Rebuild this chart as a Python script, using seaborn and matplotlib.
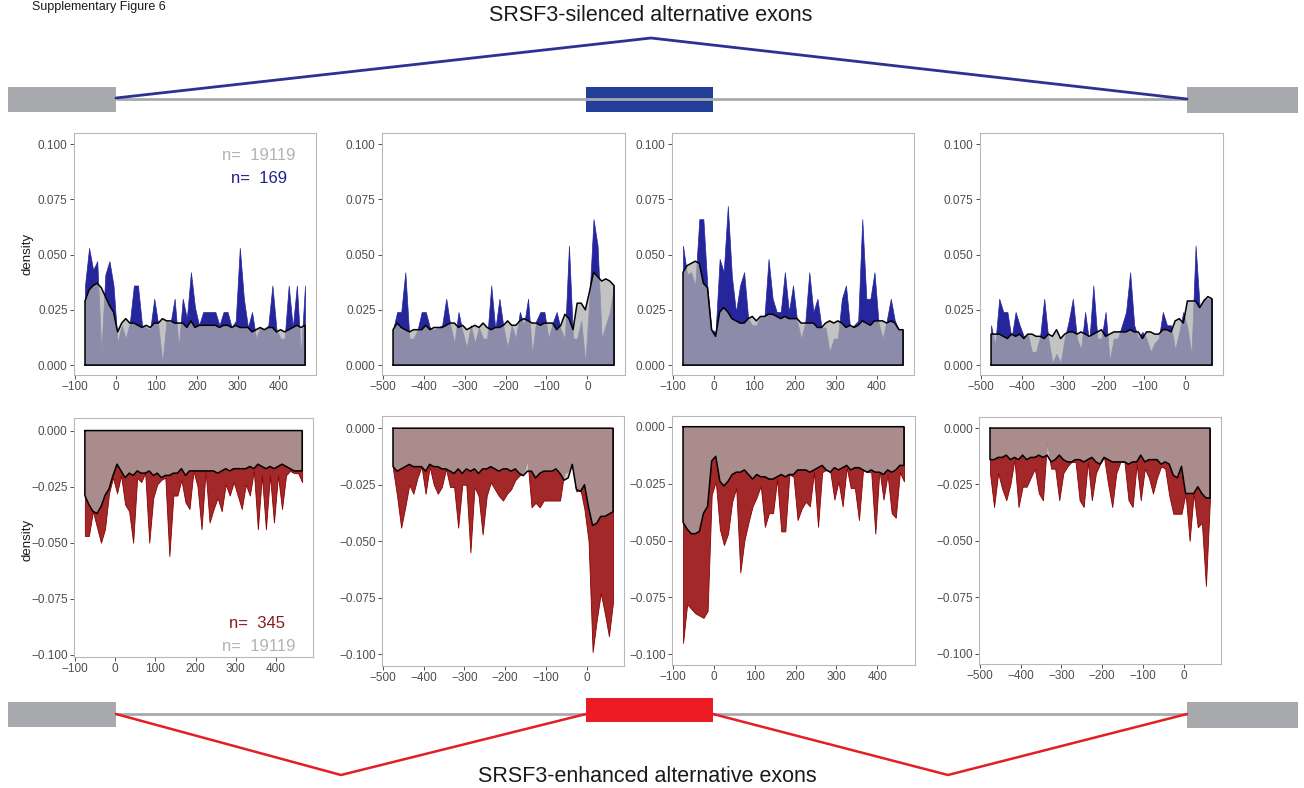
import matplotlib
matplotlib.use("Agg")
import matplotlib.pyplot as plt
import matplotlib.ticker as mticker
from matplotlib.patches import Rectangle
import pandas as pd
import seaborn as sns

sns.set_theme(style="ticks")
plt.rcParams["font.family"] = ["Liberation Sans", "DejaVu Sans"]

W, H = 1304, 788

# ── Data: binned motif density around splice sites ────────────────────────────
POS_DOWN = list(range(-75, 466, 10))    # positions for exon-end panels
POS_UP = list(range(-475, 66, 10))      # positions for exon-start panels

N_BG = 19119
N_SIL = 169
N_ENH = 345

# silenced exons (top row): background vs. hit density
BG_SIL_1 = [.029, .034, .036, .037, .035, .031, .027, .024, .015, .019, .021,
            .019, .019, .018, .017, .018, .017, .019, .019, .021, .020, .020,
            .019, .019, .019, .017, .020, .017, .018, .018, .018, .018, .018,
            .017, .018, .018, .017, .018, .017, .017, .017, .015, .016, .017,
            .016, .017, .017, .015, .016, .015, .016, .017, .018, .017, .018]
SIL_1 = [.036, .053, .043, .047, .006, .041, .047, .036, .010, .018, .012,
         .019, .036, .036, .018, .017, .016, .030, .018, .001, .020, .019,
         .030, .008, .030, .021, .042, .026, .018, .024, .024, .024, .024,
         .018, .024, .024, .017, .020, .053, .030, .017, .024, .012, .017,
         .016, .018, .036, .016, .012, .012, .036, .017, .036, .005, .036]

BG_SIL_2 = [.016, .019, .017, .016, .015, .016, .016, .016, .018, .016, .017,
            .017, .017, .018, .019, .019, .017, .018, .016, .017, .018, .017,
            .019, .017, .016, .017, .017, .018, .020, .018, .018, .020, .021,
            .020, .019, .019, .018, .019, .019, .019, .016, .018, .023, .021,
            .016, .028, .028, .025, .033, .042, .040, .038, .039, .038, .036]
SIL_2 = [.016, .024, .024, .042, .012, .012, .016, .024, .024, .017, .016,
         .017, .018, .030, .018, .010, .024, .015, .008, .018, .010, .017,
         .012, .012, .036, .016, .030, .017, .008, .018, .012, .024, .018,
         .030, .005, .020, .024, .024, .012, .019, .024, .016, .012, .054,
         .012, .012, .020, .001, .030, .066, .054, .012, .018, .024, .036]

BG_SIL_3 = [.042, .045, .046, .047, .046, .037, .035, .016, .013, .024, .026,
            .024, .021, .020, .019, .019, .021, .022, .020, .022, .022, .023,
            .023, .022, .021, .022, .021, .021, .021, .019, .019, .019, .019,
            .017, .017, .019, .020, .019, .020, .019, .017, .018, .017, .018,
            .020, .019, .018, .020, .020, .020, .019, .020, .019, .016, .016]
SIL_3 = [.054, .041, .042, .036, .066, .066, .035, .016, .015, .048, .042,
         .072, .040, .024, .036, .042, .021, .018, .018, .022, .022, .048,
         .030, .024, .024, .042, .024, .036, .020, .012, .019, .042, .024,
         .030, .017, .017, .006, .012, .012, .030, .036, .017, .018, .020,
         .066, .030, .030, .042, .019, .012, .020, .030, .020, .016, .016]

BG_SIL_4 = [.014, .014, .014, .013, .012, .014, .013, .014, .012, .014, .014,
            .013, .013, .012, .014, .013, .016, .012, .014, .015, .015, .014,
            .015, .014, .013, .014, .015, .016, .013, .014, .015, .015, .015,
            .015, .016, .015, .015, .012, .015, .015, .014, .014, .016, .016,
            .015, .020, .021, .019, .029, .029, .029, .026, .029, .031, .030]
SIL_4 = [.018, .009, .030, .024, .024, .012, .024, .018, .013, .014, .006,
         .006, .013, .030, .012, .001, .005, .001, .012, .020, .030, .012,
         .007, .024, .010, .036, .012, .012, .024, .002, .012, .012, .018,
         .024, .042, .018, .012, .015, .012, .006, .010, .012, .024, .018,
         .018, .007, .015, .024, .017, .005, .054, .026, .030, .030, .030]

# enhanced exons (bottom row): magnitudes, drawn downwards
BG_ENH_1 = [.029, .033, .036, .037, .034, .029, .026, .020, .015, .018, .021,
            .019, .020, .018, .019, .019, .018, .020, .019, .021, .020, .020,
            .019, .019, .017, .020, .018, .018, .018, .018, .018, .018, .018,
            .019, .018, .017, .018, .017, .017, .017, .017, .016, .017, .015,
            .016, .017, .016, .017, .016, .015, .016, .017, .018, .018, .018]
ENH_1 = [.047, .047, .036, .043, .050, .044, .028, .021, .028, .020, .033,
         .036, .050, .021, .023, .019, .050, .030, .024, .022, .021, .056,
         .029, .029, .022, .032, .035, .018, .025, .044, .018, .041, .035,
         .030, .036, .024, .029, .023, .029, .035, .024, .029, .018, .044,
         .020, .044, .020, .041, .020, .035, .020, .018, .019, .019, .023]

BG_ENH_2 = [.017, .019, .018, .017, .016, .017, .017, .017, .019, .016, .017,
            .017, .018, .018, .019, .020, .018, .020, .018, .019, .018, .020,
            .018, .018, .017, .018, .019, .018, .018, .019, .018, .020, .021,
            .019, .019, .022, .020, .019, .019, .019, .018, .020, .023, .022,
            .016, .027, .028, .025, .035, .043, .042, .039, .039, .038, .037]
ENH_2 = [.018, .030, .044, .035, .025, .029, .022, .017, .029, .017, .025,
         .029, .026, .018, .026, .026, .044, .025, .025, .055, .026, .030,
         .047, .030, .024, .027, .030, .032, .029, .027, .023, .021, .020,
         .014, .035, .033, .035, .032, .032, .032, .032, .032, .020, .019,
         .016, .028, .027, .036, .050, .099, .085, .073, .082, .092, .077]

BG_ENH_3 = [.042, .045, .047, .047, .046, .038, .035, .015, .013, .024, .026,
            .024, .021, .020, .020, .019, .021, .023, .021, .022, .022, .023,
            .023, .022, .021, .022, .021, .021, .019, .019, .019, .020, .019,
            .018, .017, .019, .020, .018, .019, .018, .017, .019, .018, .018,
            .019, .020, .019, .020, .020, .021, .019, .020, .019, .017, .017]
ENH_3 = [.095, .078, .080, .082, .083, .084, .081, .030, .024, .045, .052,
         .047, .033, .027, .064, .050, .042, .035, .031, .026, .044, .038,
         .038, .023, .046, .046, .021, .022, .041, .036, .033, .035, .020,
         .044, .020, .019, .020, .032, .024, .035, .018, .027, .027, .041,
         .019, .020, .020, .047, .019, .032, .021, .038, .040, .020, .024]

BG_ENH_4 = [.014, .014, .013, .013, .012, .014, .013, .014, .012, .014, .013,
            .013, .012, .013, .012, .015, .014, .012, .014, .015, .015, .014,
            .014, .015, .014, .013, .015, .016, .013, .014, .015, .015, .015,
            .015, .016, .015, .015, .012, .015, .014, .014, .014, .016, .015,
            .016, .021, .022, .017, .029, .029, .029, .026, .029, .031, .031]
ENH_4 = [.020, .035, .020, .027, .032, .025, .014, .035, .026, .026, .022,
         .018, .029, .032, .006, .018, .018, .032, .020, .017, .015, .015,
         .032, .035, .015, .032, .020, .016, .013, .025, .035, .020, .015,
         .015, .032, .035, .016, .032, .018, .022, .029, .022, .017, .018,
         .030, .038, .038, .038, .029, .050, .029, .044, .042, .070, .031]

# ── Style ─────────────────────────────────────────────────────────────────────
BLUE_FILL = "#26269c"
RED_FILL = "#a3282a"
RED_EDGE = "#8b0000"
GREY_FILL = "#afafaf"
BORDER = "#b8b8b8"
TXT = "#4d4d4d"

GENE_GREY = "#a7a9ac"
LINE_BLUE = "#2e3192"
BOX_BLUE = "#213f99"
LINE_RED = "#e31e24"
BOX_RED = "#ed1c24"


def _px_box(left, right, top, bottom):
    return [left / W, 1 - bottom / H, (right - left) / W, (bottom - top) / H]


def _yfmt(v, _):
    s = f"{v:.3f}"
    if float(s) == 0:
        s = "0.000"
    return s.replace("-", "\u2212")


def _panel(fig, box, pos, bg, hit, sign, xlim, ylim, xticks, yticks):
    ax = fig.add_axes(_px_box(*box))
    hit_v = [sign * v for v in hit]
    bg_v = [sign * v for v in bg]
    if sign > 0:
        ax.fill_between(pos, 0, hit_v, facecolor=BLUE_FILL, edgecolor=BLUE_FILL,
                        linewidth=0.5, zorder=1)
    else:
        ax.fill_between(pos, 0, hit_v, facecolor=RED_FILL, edgecolor=RED_EDGE,
                        linewidth=0.6, zorder=1)
    ax.fill_between(pos, 0, bg_v, facecolor=GREY_FILL, alpha=0.75,
                    edgecolor="none", zorder=2)

    # closed outline of the background density
    outline = pd.DataFrame({
        "pos": [pos[0]] + pos + [pos[-1], pos[0]],
        "density": [0.0] + bg_v + [0.0, 0.0],
    })
    sns.lineplot(data=outline, x="pos", y="density", sort=False, estimator=None,
                 color="black", linewidth=1.1, ax=ax, zorder=3)

    ax.set_xlim(*xlim)
    ax.set_ylim(*ylim)
    ax.set_xticks(xticks)
    ax.set_yticks(yticks)
    ax.yaxis.set_major_formatter(mticker.FuncFormatter(_yfmt))
    ax.set_xlabel("")
    ax.set_ylabel("")
    ax.tick_params(direction="out", length=3, width=0.6, color="#333333",
                   labelsize=8.5, labelcolor=TXT, pad=1.5)
    for sp in ax.spines.values():
        sp.set_color(BORDER)
        sp.set_linewidth(0.8)
    return ax


fig = plt.figure(figsize=(W / 100, H / 100), dpi=100)

# ── Gene diagrams ─────────────────────────────────────────────────────────────
ax0 = fig.add_axes([0, 0, 1, 1])
ax0.set_xlim(0, W)
ax0.set_ylim(H, 0)
ax0.axis("off")

# top: silenced
ax0.plot([116, 1187], [99, 99], color=GENE_GREY, lw=2, solid_capstyle="butt")
ax0.add_patch(Rectangle((8, 87), 108, 25, color=GENE_GREY, lw=0))
ax0.add_patch(Rectangle((1187, 87), 111, 26, color=GENE_GREY, lw=0))
ax0.add_patch(Rectangle((586, 87), 127, 25, color=BOX_BLUE, lw=0))
ax0.plot([116, 651, 1187], [98, 38, 99], color=LINE_BLUE, lw=2)
ax0.text(651, 15, "SRSF3-silenced alternative exons", ha="center", va="center",
         fontsize=15.5, color="#1a1a1a")

# bottom: enhanced
ax0.plot([116, 1187], [714, 714], color=GENE_GREY, lw=2, solid_capstyle="butt")
ax0.add_patch(Rectangle((8, 702), 108, 25, color=GENE_GREY, lw=0))
ax0.add_patch(Rectangle((1187, 702), 111, 26, color=GENE_GREY, lw=0))
ax0.plot([116, 341, 586], [714, 775, 714], color=LINE_RED, lw=1.8)
ax0.plot([713, 948, 1187], [714, 775, 714], color=LINE_RED, lw=1.8)
ax0.add_patch(Rectangle((586, 698), 127, 24, color=BOX_RED, lw=0, zorder=3))
ax0.text(647, 776, "SRSF3-enhanced alternative exons", ha="center", va="center",
         fontsize=15.5, color="#1a1a1a")

# figure header (kept small so it stays inside the canvas)
fig.text(32 / W, 1 - 1 / H, "Supplementary Figure 6", ha="left", va="top",
         fontsize=9, color="#1a1a1a")

# ── Density panels ────────────────────────────────────────────────────────────
XL_DOWN = (-102, 492)
XL_UP = (-502, 92)
XT_DOWN = [-100, 0, 100, 200, 300, 400]
XT_UP = [-500, -400, -300, -200, -100, 0]
YT_TOP = [0, 0.025, 0.05, 0.075, 0.1]
YT_BOT = [-0.1, -0.075, -0.05, -0.025, 0]
YL_TOP = (-0.0045, 0.105)

top_boxes = [(74, 316, 133, 375), (382, 625, 133, 375),
             (672, 914, 133, 375), (980, 1223, 133, 375)]
bot_boxes = [(74, 313, 418, 657), (382, 624, 416, 666),
             (672, 915, 416, 665), (979, 1221, 417, 664)]
bot_ylims = [(-0.101, 0.0056), (-0.1052, 0.0054),
             (-0.1047, 0.0047), (-0.1046, 0.0049)]

top_series = [(POS_DOWN, BG_SIL_1, SIL_1), (POS_UP, BG_SIL_2, SIL_2),
              (POS_DOWN, BG_SIL_3, SIL_3), (POS_UP, BG_SIL_4, SIL_4)]
bot_series = [(POS_DOWN, BG_ENH_1, ENH_1), (POS_UP, BG_ENH_2, ENH_2),
              (POS_DOWN, BG_ENH_3, ENH_3), (POS_UP, BG_ENH_4, ENH_4)]

axes_top, axes_bot = [], []
for box, (pos, bg, hit) in zip(top_boxes, top_series):
    down = pos is POS_DOWN
    axes_top.append(_panel(fig, box, pos, bg, hit, 1,
                           XL_DOWN if down else XL_UP, YL_TOP,
                           XT_DOWN if down else XT_UP, YT_TOP))
for box, yl, (pos, bg, hit) in zip(bot_boxes, bot_ylims, bot_series):
    down = pos is POS_DOWN
    axes_bot.append(_panel(fig, box, pos, bg, hit, -1,
                           XL_DOWN if down else XL_UP, yl,
                           XT_DOWN if down else XT_UP, YT_BOT))

fig.text(28 / W, 1 - 254 / H, "density", rotation=90, ha="center", va="center",
         fontsize=9.5, color="#1a1a1a")
fig.text(28 / W, 1 - 540 / H, "density", rotation=90, ha="center", va="center",
         fontsize=9.5, color="#1a1a1a")

a1 = axes_top[0]
a1.text(0.917, 0.905, f"n=  {N_BG}", transform=a1.transAxes, ha="right",
        va="center", fontsize=12, color="#b3b3b3")
a1.text(0.880, 0.814, f"n=  {N_SIL}", transform=a1.transAxes, ha="right",
        va="center", fontsize=12, color="#1f1f8f")
a5 = axes_bot[0]
a5.text(0.883, 0.142, f"n=  {N_ENH}", transform=a5.transAxes, ha="right",
        va="center", fontsize=12, color="#8b1a1a")
a5.text(0.925, 0.046, f"n=  {N_BG}", transform=a5.transAxes, ha="right",
        va="center", fontsize=12, color="#b3b3b3")

fig.savefig("out.png", dpi=100)
